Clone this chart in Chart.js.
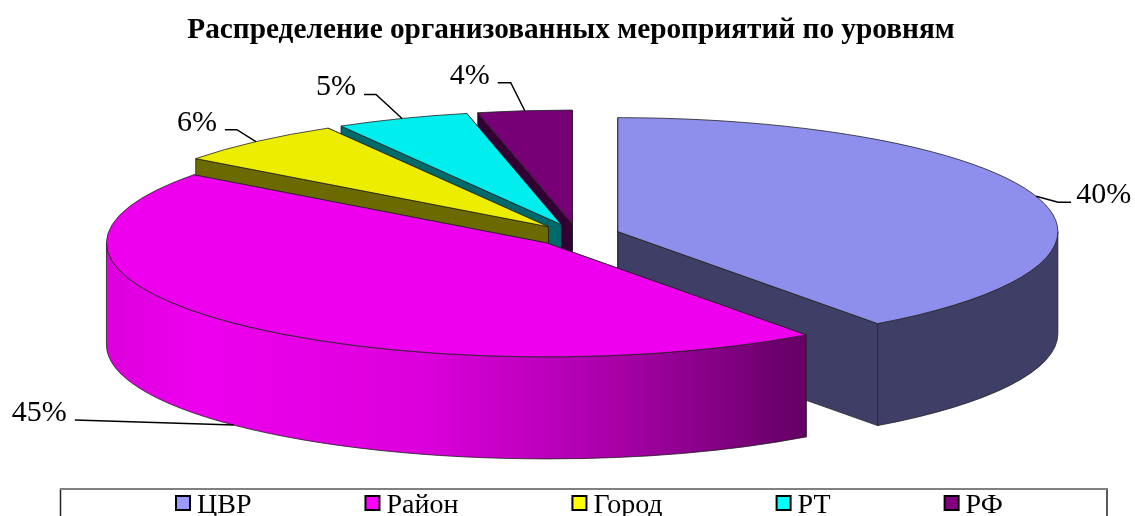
<!DOCTYPE html>
<html>
<head>
<meta charset="utf-8">
<title>Распределение организованных мероприятий по уровням</title>
<style>
  html, body { margin: 0; padding: 0; background: #fff; overflow: hidden; }
  canvas { display: block; }
</style>
<script src="https://cdn.jsdelivr.net/npm/chart.js@4/dist/chart.umd.js"></script>
</head>
<body>
<canvas id="pieChart" width="1135" height="516"></canvas>
<script>
const chartTitle = "Распределение организованных мероприятий по уровням";
const categories = ["ЦВР", "Район", "Город", "РТ", "РФ"];
const shares = [39.95, 45.25, 6.45, 4.9, 3.45];
const shareLabels = ["40%", "45%", "6%", "5%", "4%"];

// colours: top face, side wall, legend box
const topColors = ["#8e8eed", "#ee00ee", "#eded00", "#00eeee", "#770077"];
const wallColors = ["#3e3e66", "#ee00ee", "#6a6a00", "#006a6a", "#330033"];
const legendColors = ["#9999ff", "#ff00ff", "#ffff00", "#00ffff", "#800080"];

// leader lines, relative to the point on the rim
const leaders = [
  { elbow: [22, 6], end: [35, 6], side: "left" },
  { elbow: null, end: [-159, -5], side: "right", onBottom: true },
  { elbow: [-19, -12], end: [-31, -12], side: "right" },
  { elbow: [-26, -24], end: [-38, -24], side: "right" },
  { elbow: [-14, -28], end: [-27, -28], side: "right" },
];

const SERIF = "'Liberation Serif', 'Times New Roman', serif";
const RADIUS = 440;
const SQUASH = 0.259;
const DEPTH = 102;
const EXPLODE = 43;
const SHIFT_X = 6;

// where a slice's centre ends up once tilted and pulled out
function sliceGeometry(arc) {
  const mid = (arc.startAngle + arc.endAngle) / 2;
  return {
    x: arc.x + SHIFT_X + Math.cos(mid) * EXPLODE,
    y: arc.y + Math.sin(mid) * EXPLODE * SQUASH,
    r: arc.outerRadius,
    ry: arc.outerRadius * SQUASH,
    a: arc.startAngle,
    b: arc.endAngle,
    mid: mid,
  };
}

function rimPoint(g, angle) {
  return [g.x + Math.cos(angle) * g.r, g.y + Math.sin(angle) * g.ry];
}

function outlineWall(ctx, pts, fill) {
  ctx.beginPath();
  pts.forEach((p, i) => (i ? ctx.lineTo(p[0], p[1]) : ctx.moveTo(p[0], p[1])));
  ctx.closePath();
  ctx.fillStyle = fill;
  ctx.fill();
  ctx.stroke();
}

function wallFill(ctx, index, g, lo, hi) {
  if (index !== 1) return wallColors[index];
  // the big slice is the only one with shading on its wall
  const left = rimPoint(g, hi)[0];
  const right = rimPoint(g, lo)[0];
  const grad = ctx.createLinearGradient(left, 0, right, 0);
  grad.addColorStop(0, "#dc00dc");
  grad.addColorStop(0.13, "#ee00ee");
  grad.addColorStop(0.45, "#dc00dc");
  grad.addColorStop(0.72, "#aa00aa");
  grad.addColorStop(1, "#640064");
  return grad;
}

const pie3d = {
  id: "pie3d",
  beforeDatasetsDraw(chart) {
    const ctx = chart.ctx;
    const arcs = chart.getDatasetMeta(0).data;
    const order = arcs
      .map((arc, i) => ({ arc, i, g: sliceGeometry(arc) }))
      .sort((p, q) => Math.sin(p.g.mid) - Math.sin(q.g.mid));

    ctx.save();
    ctx.lineWidth = 0.8;
    ctx.strokeStyle = "#222";
    order.forEach(({ arc, i, g }) => {
      const apex = [g.x, g.y];
      const low = (p) => [p[0], p[1] + DEPTH];

      // cut faces, the one reaching further back goes first
      [rimPoint(g, g.a), rimPoint(g, g.b)]
        .sort((p, q) => p[1] - q[1])
        .forEach((rim) => {
          outlineWall(ctx, [apex, rim, low(rim), low(apex)], wallColors[i]);
        });

      // outer wall, only the part turned towards the viewer
      const lo = Math.max(g.a, 0);
      const hi = Math.min(g.b, Math.PI);
      if (hi > lo) {
        ctx.beginPath();
        ctx.ellipse(g.x, g.y, g.r, g.ry, 0, lo, hi);
        ctx.ellipse(g.x, g.y + DEPTH, g.r, g.ry, 0, hi, lo, true);
        ctx.closePath();
        ctx.fillStyle = wallFill(ctx, i, g, lo, hi);
        ctx.fill();
        ctx.stroke();
      }

      // top face is the library's own arc, flattened
      ctx.save();
      ctx.translate(g.x, g.y);
      ctx.scale(1, SQUASH);
      ctx.translate(-arc.x, -arc.y);
      arc.draw(ctx);
      ctx.restore();

      ctx.beginPath();
      ctx.moveTo(g.x, g.y);
      ctx.ellipse(g.x, g.y, g.r, g.ry, 0, g.a, g.b);
      ctx.closePath();
      ctx.stroke();
    });
    ctx.restore();
    return false;
  },
  afterDraw(chart) {
    const ctx = chart.ctx;
    const arcs = chart.getDatasetMeta(0).data;

    // data labels with leader lines
    ctx.save();
    ctx.font = "30px " + SERIF;
    ctx.fillStyle = "#000";
    ctx.strokeStyle = "#000";
    ctx.lineWidth = 1.5;
    ctx.textBaseline = "alphabetic";
    arcs.forEach((arc, i) => {
      const g = sliceGeometry(arc);
      const rim = rimPoint(g, g.mid);
      const lead = leaders[i];
      const x0 = rim[0];
      const y0 = rim[1] + (lead.onBottom ? DEPTH : 0);
      const endX = x0 + lead.end[0];
      const endY = y0 + lead.end[1];
      ctx.beginPath();
      ctx.moveTo(x0, y0);
      if (lead.elbow) ctx.lineTo(x0 + lead.elbow[0], y0 + lead.elbow[1]);
      ctx.lineTo(endX, endY);
      ctx.stroke();
      ctx.textAlign = lead.side;
      const textX = endX + (lead.side === "left" ? 5 : -8);
      ctx.fillText(shareLabels[i], textX, endY + 1);
    });
    ctx.restore();

    // legend in its frame, cut by the bottom of the picture
    ctx.save();
    ctx.strokeStyle = "#222";
    ctx.lineWidth = 1.5;
    ctx.strokeRect(60.5, 489, 1046.5, 60);
    ctx.strokeStyle = "#808080";
    ctx.lineWidth = 2;
    ctx.beginPath();
    ctx.moveTo(60, 489);
    ctx.lineTo(1108, 489);
    ctx.stroke();
    ctx.font = "28px " + SERIF;
    ctx.textAlign = "left";
    ctx.textBaseline = "alphabetic";
    let x = 175;
    chart.data.labels.forEach((label, i) => {
      ctx.fillStyle = legendColors[i];
      ctx.strokeStyle = "#000";
      ctx.lineWidth = 2;
      ctx.fillRect(x + 1, 496, 14, 14);
      ctx.strokeRect(x + 1, 496, 14, 14);
      ctx.fillStyle = "#000";
      ctx.fillText(label, x + 22, 513);
      x += 22 + ctx.measureText(label).width + 113;
    });
    ctx.restore();
  },
};

new Chart(document.getElementById("pieChart"), {
  type: "pie",
  data: {
    labels: categories,
    datasets: [{
      data: shares,
      backgroundColor: topColors,
      borderWidth: 0,
      hoverOffset: 0,
      radius: RADIUS,
    }],
  },
  options: {
    responsive: false,
    animation: false,
    events: [],
    layout: { padding: { left: 7, bottom: 102 } },
    plugins: {
      legend: { display: false },
      tooltip: { enabled: false },
      title: {
        display: true,
        text: chartTitle,
        color: "#000",
        font: { family: SERIF, size: 29.3, weight: "bold" },
        padding: { top: 13, bottom: 8 },
      },
    },
  },
  plugins: [pie3d],
});
</script>
</body>
</html>
